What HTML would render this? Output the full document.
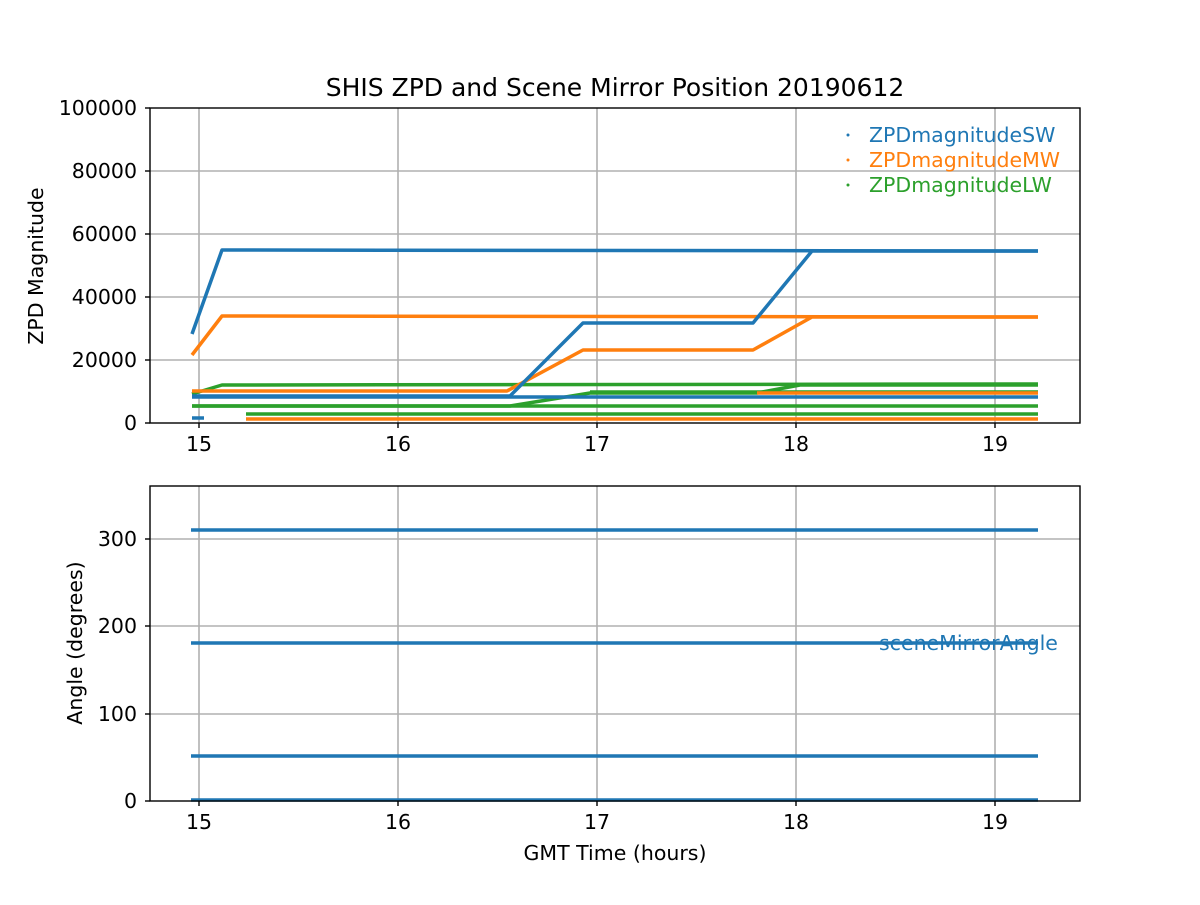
<!DOCTYPE html>
<html><head><meta charset="utf-8"><style>
body{margin:0;background:#fff}
text{font-family:"DejaVu Sans","Liberation Sans",sans-serif;}
</style></head><body>
<svg width="1200" height="900" xmlns="http://www.w3.org/2000/svg">
<rect width="1200" height="900" fill="#fff"/>
<text x="615" y="96" font-size="25" text-anchor="middle">SHIS ZPD and Scene Mirror Position 20190612</text>
<g stroke="#b0b0b0" stroke-width="1.6">
<line x1="199" y1="108" x2="199" y2="423"/><line x1="398" y1="108" x2="398" y2="423"/><line x1="597" y1="108" x2="597" y2="423"/><line x1="796" y1="108" x2="796" y2="423"/><line x1="995" y1="108" x2="995" y2="423"/>
<line x1="150" y1="171" x2="1080" y2="171"/><line x1="150" y1="234" x2="1080" y2="234"/><line x1="150" y1="297" x2="1080" y2="297"/><line x1="150" y1="360" x2="1080" y2="360"/>
</g>
<g fill="none" stroke-width="3.5" stroke-linejoin="round">
<polyline stroke="#2ca02c" points="192,394 222,385 1038,384"/>
<polyline stroke="#2ca02c" points="192,406 510,406 590,393 757,393 800,385 1038,385"/>
<polyline stroke="#2ca02c" points="192,406 1038,406"/>
<polyline stroke="#2ca02c" points="246,414 1038,414"/>
<polyline stroke="#2ca02c" points="590,392 1038,392"/>
<polyline stroke="#ff7f0e" points="192,355 222,316 1038,317"/>
<polyline stroke="#ff7f0e" points="192,391 507,391 583,350 753,350 812,317 1038,317"/>
<polyline stroke="#ff7f0e" points="757,393 1038,393"/>
<polyline stroke="#ff7f0e" points="246,419 1038,419"/>
<polyline stroke="#1f77b4" points="192,334 222,250 1038,251"/>
<polyline stroke="#1f77b4" points="192,396 510,396 583,323 753,323 812,251 1038,251"/>
<polyline stroke="#1f77b4" points="192,397 1038,397"/>
<polyline stroke="#1f77b4" points="192,418 204,418"/>
</g>
<rect x="150" y="108" width="930" height="315" fill="none" stroke="#000" stroke-width="1.4"/>
<g stroke="#000" stroke-width="1.4">
<line x1="199" y1="423" x2="199" y2="428"/><line x1="398" y1="423" x2="398" y2="428"/><line x1="597" y1="423" x2="597" y2="428"/><line x1="796" y1="423" x2="796" y2="428"/><line x1="995" y1="423" x2="995" y2="428"/>
<line x1="145" y1="108" x2="150" y2="108"/><line x1="145" y1="171" x2="150" y2="171"/><line x1="145" y1="234" x2="150" y2="234"/><line x1="145" y1="297" x2="150" y2="297"/><line x1="145" y1="360" x2="150" y2="360"/><line x1="145" y1="423" x2="150" y2="423"/>
</g>
<g font-size="20.5" text-anchor="middle">
<text x="199" y="451">15</text><text x="398" y="451">16</text><text x="597" y="451">17</text><text x="796" y="451">18</text><text x="995" y="451">19</text>
</g>
<g font-size="20.5" text-anchor="end">
<text x="137" y="115">100000</text><text x="137" y="178">80000</text><text x="137" y="241">60000</text><text x="137" y="304">40000</text><text x="137" y="367">20000</text><text x="137" y="430">0</text>
</g>
<text transform="translate(43,266) rotate(-90)" font-size="20.5" text-anchor="middle">ZPD Magnitude</text>
<g font-size="20.5">
<circle cx="848" cy="135" r="1.5" fill="#1f77b4"/><text x="869" y="142" fill="#1f77b4">ZPDmagnitudeSW</text>
<circle cx="848" cy="160" r="1.5" fill="#ff7f0e"/><text x="869" y="167" fill="#ff7f0e">ZPDmagnitudeMW</text>
<circle cx="848" cy="185" r="1.5" fill="#2ca02c"/><text x="869" y="192" fill="#2ca02c">ZPDmagnitudeLW</text>
</g>
<g stroke="#b0b0b0" stroke-width="1.6">
<line x1="199" y1="486" x2="199" y2="801"/><line x1="398" y1="486" x2="398" y2="801"/><line x1="597" y1="486" x2="597" y2="801"/><line x1="796" y1="486" x2="796" y2="801"/><line x1="995" y1="486" x2="995" y2="801"/>
<line x1="150" y1="539" x2="1080" y2="539"/><line x1="150" y1="626" x2="1080" y2="626"/><line x1="150" y1="714" x2="1080" y2="714"/>
</g>
<g stroke="#1f77b4" stroke-width="3.5">
<line x1="191" y1="530" x2="1038" y2="530"/><line x1="191" y1="643" x2="1038" y2="643"/><line x1="191" y1="756" x2="1038" y2="756"/><line x1="191" y1="800" x2="1038" y2="800"/>
</g>
<rect x="150" y="486" width="930" height="315" fill="none" stroke="#000" stroke-width="1.4"/>
<g stroke="#000" stroke-width="1.4">
<line x1="199" y1="801" x2="199" y2="806"/><line x1="398" y1="801" x2="398" y2="806"/><line x1="597" y1="801" x2="597" y2="806"/><line x1="796" y1="801" x2="796" y2="806"/><line x1="995" y1="801" x2="995" y2="806"/>
<line x1="145" y1="539" x2="150" y2="539"/><line x1="145" y1="626" x2="150" y2="626"/><line x1="145" y1="714" x2="150" y2="714"/><line x1="145" y1="801" x2="150" y2="801"/>
</g>
<g font-size="20.5" text-anchor="middle">
<text x="199" y="829">15</text><text x="398" y="829">16</text><text x="597" y="829">17</text><text x="796" y="829">18</text><text x="995" y="829">19</text>
</g>
<g font-size="20.5" text-anchor="end">
<text x="137" y="546">300</text><text x="137" y="633">200</text><text x="137" y="721">100</text><text x="137" y="808">0</text>
</g>
<text transform="translate(82,643) rotate(-90)" font-size="20.5" text-anchor="middle">Angle (degrees)</text>
<text x="615" y="860" font-size="20.5" text-anchor="middle">GMT Time (hours)</text>
<text x="879" y="650" font-size="20.5" fill="#1f77b4">sceneMirrorAngle</text>
</svg>
</body></html>
